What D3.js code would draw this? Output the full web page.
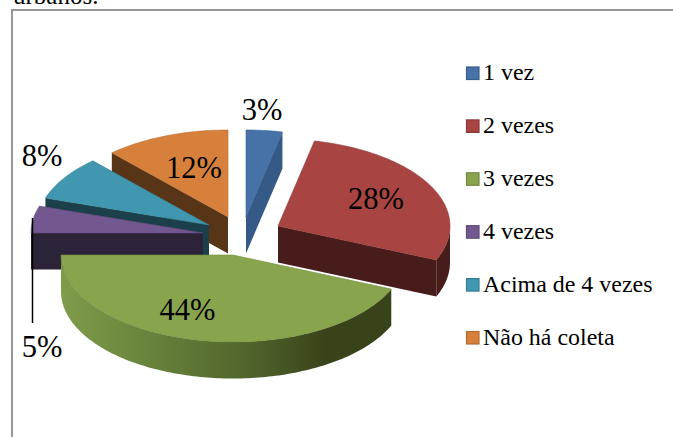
<!DOCTYPE html>
<html><head><meta charset="utf-8">
<script src="https://cdn.jsdelivr.net/npm/d3@7"></script>
<style>html,body{margin:0;padding:0;background:#fff}svg{display:block}text{font-family:"Liberation Serif",serif;fill:#000}</style>
</head><body><svg id="c" width="673" height="437"></svg>
<script>
const categories=["1 vez","2 vezes","3 vezes","4 vezes","Acima de 4 vezes","Não há coleta"];
const values=[3.4,28,43.6,5,8.2,11.8];
const topColors=["#4672a8","#a84543","#88a44d","#72588f","#4197af","#d7803c"];
const wallColors=["#355a88","#481c1a","#384319","#2c2338","#1c3f4c","#583516"];
// layout: apex of every exploded slice, and where its label sits
const apexes=[[246,217],[278,226],[233,255],[203,233],[209,225],[228,217]];
const labelPos=[[262,120],[376,209],[187.5,320],[42,357],[42,166],[194,178]];
const RX=172,RY=87,DEPTH=36.5;

const svg=d3.select("#c");
const defs=svg.append("defs");
const g=defs.append("linearGradient").attr("id","rim").attr("gradientUnits","userSpaceOnUse")
  .attr("x1",61).attr("x2",392).attr("y1",0).attr("y2",0);
[[0,"#7f9c4b"],[.3,"#65803a"],[.6,"#4d6029"],[.8,"#384319"],[1,"#384319"]]
  .forEach(([o,c])=>g.append("stop").attr("offset",o).attr("stop-color",c));

// frame and the clipped text above it
svg.append("text").attr("x",13).attr("y",4).attr("font-size",25).text("urbanos.");
svg.append("path").attr("d","M12,437V10H673").attr("fill","none").attr("stroke","#979797").attr("stroke-width",2);

const slices=d3.pie().sort(null).value(d=>d)(values);
const pt=(i,a,dz=0)=>[apexes[i][0]+RX*Math.sin(a),apexes[i][1]-RY*Math.cos(a)+dz];
const arcPts=(i,a0,a1,dz=0)=>{const n=Math.max(2,Math.ceil(Math.abs(a1-a0)/.02));
  return d3.range(n+1).map(k=>pt(i,a0+(a1-a0)*k/n,dz));};
const line=d3.line();
const wall=(i,a)=>line([apexes[i],pt(i,a),pt(i,a,DEPTH),[apexes[i][0],apexes[i][1]+DEPTH]])+"Z";
const rim=(i,a0,a1)=>line([...arcPts(i,a0,a1),...arcPts(i,a1,a0,DEPTH)])+"Z";
const face=(i,a0,a1)=>line([apexes[i],...arcPts(i,a0,a1)])+"Z";

// painter's order: back slices first, green last
const order=[0,5,4,3,1,2];
order.forEach(i=>{
  const s=slices[i],a0=s.startAngle,a1=s.endAngle,G=svg.append("g").attr("class","slice");
  const half=Math.PI;
  if(a0>half) G.append("path").attr("d",wall(i,a0)).attr("fill",wallColors[i]);   // start cut faces the viewer
  if(a1<half) G.append("path").attr("d",wall(i,a1)).attr("fill",wallColors[i]);   // end cut faces the viewer
  const r0=Math.max(a0,Math.PI/2),r1=Math.min(a1,Math.PI*1.5);
  if(r1>r0) G.append("path").attr("d",rim(i,r0,r1)).attr("fill",i===2?"url(#rim)":wallColors[i]);
  G.append("path").attr("d",face(i,a0,a1)).attr("fill",topColors[i])
    .attr("stroke",d3.color(topColors[i]).darker(.4)).attr("stroke-width",.6);
});

// leader line of the 4 vezes label
svg.append("path").attr("d",d3.line()([[32.5,218],[32.5,323]])).attr("stroke","#000").attr("stroke-width",1.5).attr("fill","none");

// labels
slices.forEach((s,i)=>svg.append("text").attr("x",labelPos[i][0]).attr("y",labelPos[i][1])
  .attr("text-anchor","middle").attr("font-size",30.5).text(Math.round(s.data)+"%"));

// legend
const ly=d3.scalePoint().domain(categories).range([73,337.5]);
const lg=svg.selectAll("g.leg").data(categories).join("g").attr("class","leg")
  .attr("transform",d=>`translate(0,${ly(d)})`);
lg.append("rect").attr("x",466.5).attr("y",-6).attr("width",12.5).attr("height",12.5)
  .attr("fill",(d,i)=>topColors[i]).attr("stroke",(d,i)=>d3.color(topColors[i]).darker(.5)).attr("stroke-width",1.2);
lg.append("text").attr("x",483).attr("y",7).attr("font-size",23.95).attr("fill","#111").text(d=>d);
</script></body></html>
